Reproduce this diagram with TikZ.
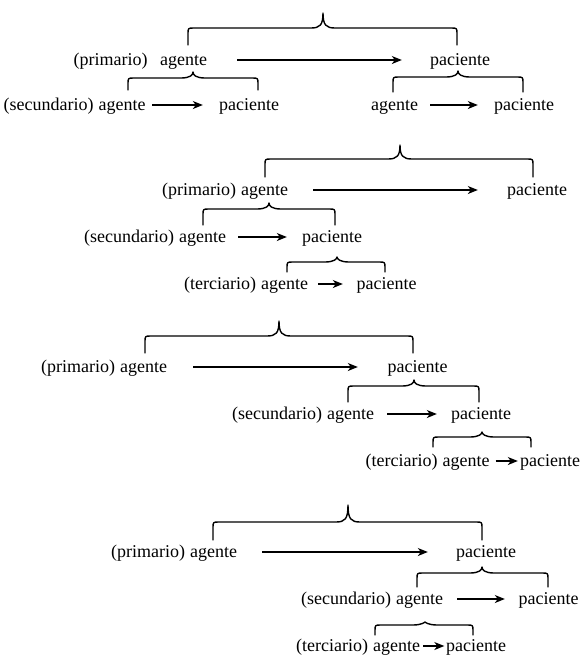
\documentclass[tikz,border=0pt]{standalone}
\usepackage{fontspec}
\setmainfont{Liberation Serif}
\usetikzlibrary{arrows.meta}

% curly brace: left x, right x, cusp x, tip y, bar y, leg-end y
\newcommand\cbrace[6]{%
  \draw[bracestyle] (#1,#6) -- (#1,#5+6) .. controls (#1,#5) .. (#1+6,#5)
    -- (#3-12,#5) .. controls (#3-3,#5) and (#3,#5-3) .. (#3,#4)
    .. controls (#3,#5-3) and (#3+3,#5) .. (#3+12,#5)
    -- (#2-6,#5) .. controls (#2,#5) .. (#2,#5+6) -- (#2,#6);}

\begin{document}
\begin{tikzpicture}[x=1pt,y=-1pt,
  every node/.style={font=\fontsize{18}{20}\selectfont},
  word/.style={inner sep=0pt, anchor=base, text height=13pt, text depth=3pt},
  lab/.style={inner sep=0pt, anchor=base east},
  arr/.style={line width=1.1pt, -{Stealth[length=10pt,width=8pt,inset=3pt]}},
  bracestyle/.style={line width=1.4pt, line cap=round, line join=round}]
\path[use as bounding box] (0,0) rectangle (582,657);

% ---------- first scheme ----------
\node[word] (a1) at (183.5,65) {agente};
\node[lab] (l1) at ([xshift=-12pt]a1.base west) {(primario)};
\node[word] (p1) at (460,65) {paciente};
\draw[arr, shorten <=30pt, shorten >=28pt] (a1.east) -- (p1.west);
\cbrace{188}{457}{323}{13}{28}{45}

\node[word] (a2) at (122,110) {agente};
\node[lab] (l2) at ([xshift=-4.5pt]a2.base west) {(secundario)};
\node[word] (p2) at (249,110) {paciente};
\draw[arr, shorten <=6.5pt, shorten >=16pt] (a2.east) -- (p2.west);
\cbrace{128}{258}{193}{72}{78}{90}

\node[word] (a3) at (394.5,110) {agente};
\node[word] (p3) at (524,110) {paciente};
\draw[arr, shorten <=12pt, shorten >=16pt] (a3.east) -- (p3.west);
\cbrace{393}{523}{458}{71}{77}{92}

% ---------- second scheme ----------
\node[word] (a4) at (264.5,195) {agente};
\node[lab] (l4) at ([xshift=-4.5pt]a4.base west) {(primario)};
\node[word] (p4) at (537,195) {paciente};
\draw[arr, shorten <=25pt, shorten >=29pt] (a4.east) -- (p4.west);
\cbrace{265}{533}{400}{145}{159}{177}

\node[word] (a5) at (202.5,242) {agente};
\node[lab] (l5) at ([xshift=-4.5pt]a5.base west) {(secundario)};
\node[word] (p5) at (332,242) {paciente};
\draw[arr, shorten <=12pt, shorten >=15pt] (a5.east) -- (p5.west);
\cbrace{203}{335}{269}{203}{209}{225}

\node[word] (a6) at (284.5,289) {agente};
\node[lab] (l6) at ([xshift=-4.5pt]a6.base west) {(terciario)};
\node[word] (p6) at (386.5,289) {paciente};
\draw[arr, shorten <=10pt, shorten >=13.5pt] (a6.east) -- (p6.west);
\cbrace{287}{385}{337}{257}{262}{272}

% ---------- third scheme ----------
\node[word] (a7) at (143.5,372) {agente};
\node[lab] (l7) at ([xshift=-4.5pt]a7.base west) {(primario)};
\node[word] (p7) at (417.5,372) {paciente};
\draw[arr, shorten <=26pt, shorten >=29.5pt] (a7.east) -- (p7.west);
\cbrace{145}{413}{279}{321}{336}{353}

\node[word] (a8) at (350.5,419) {agente};
\node[lab] (l8) at ([xshift=-4.5pt]a8.base west) {(secundario)};
\node[word] (p8) at (481,419) {paciente};
\draw[arr, shorten <=13pt, shorten >=14pt] (a8.east) -- (p8.west);
\cbrace{348}{479}{414}{380}{386}{402}

\node[word] (a9) at (466,466) {agente};
\node[lab] (l9) at ([xshift=-4.5pt]a9.base west) {(terciario)};
\node[word] (p9) at (550,466) {paciente};
\draw[arr, shorten <=6pt, shorten >=2pt] (a9.east) -- (p9.west);
\cbrace{433}{531}{482}{432}{437}{447}

% ---------- fourth scheme ----------
\node[word] (a10) at (213.5,557) {agente};
\node[lab] (l10) at ([xshift=-4.5pt]a10.base west) {(primario)};
\node[word] (p10) at (486,557) {paciente};
\draw[arr, shorten <=25pt, shorten >=28pt] (a10.east) -- (p10.west);
\cbrace{213}{482}{348}{505}{522}{540}

\node[word] (a11) at (419.5,604) {agente};
\node[lab] (l11) at ([xshift=-4.5pt]a11.base west) {(secundario)};
\node[word] (p11) at (548.5,604) {paciente};
\draw[arr, shorten <=14pt, shorten >=13.5pt] (a11.east) -- (p11.west);
\cbrace{417}{548}{482}{567}{573}{587}

\node[word] (a12) at (396.5,651) {agente};
\node[lab] (l12) at ([xshift=-4.5pt]a12.base west) {(terciario)};
\node[word] (p12) at (476,651) {paciente};
\draw[arr, shorten <=3pt, shorten >=1.5pt] (a12.east) -- (p12.west);
\cbrace{375}{473}{425}{622}{625}{635}
\end{tikzpicture}
\end{document}
